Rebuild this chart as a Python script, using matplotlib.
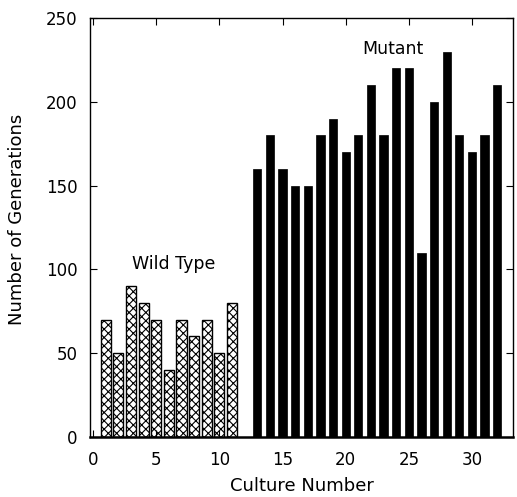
import matplotlib
matplotlib.use("Agg")
import matplotlib.pyplot as plt

wild_cultures = list(range(1, 12))
wild_values = [70, 50, 90, 80, 70, 40, 70, 60, 70, 50, 80]
mutant_cultures = list(range(13, 33))
mutant_values = [160, 180, 160, 150, 150, 180, 190, 170, 180, 210,
                 180, 220, 220, 110, 200, 230, 180, 170, 180, 210]
x_ticks = [0, 5, 10, 15, 20, 25, 30]
y_ticks = [0, 50, 100, 150, 200, 250]

plt.rcParams['hatch.linewidth'] = 0.8
fig = plt.figure(figsize=(5.17, 4.97), dpi=100)
ax = fig.add_axes([90 / 517, 60 / 497, 423 / 517, 419 / 497])

ax.bar(wild_cultures, wild_values, width=0.8, color='white',
       edgecolor='black', hatch='xxxx', linewidth=1.0)
ax.bar(mutant_cultures, mutant_values, width=0.65, color='black',
       edgecolor='black', linewidth=0.5)

ax.set_xlim(-0.25, 33.25)
ax.set_ylim(0, 250)
ax.set_xticks(x_ticks)
ax.set_yticks(y_ticks)
ax.tick_params(direction='in', top=True, right=True, length=5,
               labelsize=12)
ax.tick_params(axis='x', pad=10)
ax.tick_params(axis='y', pad=9)
for s in ax.spines.values():
    s.set_linewidth(1.0)
ax.spines['bottom'].set_linewidth(1.8)

ax.set_xlabel('Culture Number', fontsize=13)
ax.set_ylabel('Number of Generations', fontsize=13)
ax.xaxis.set_label_coords(0.5, -40 / 419, transform=ax.transAxes)
ax.yaxis.set_label_coords(-64 / 423, 0.52, transform=ax.transAxes)

ax.text(6.4, 98, 'Wild Type', ha='center', va='bottom', fontsize=12.5)
ax.text(23.7, 226, 'Mutant', ha='center', va='bottom', fontsize=12.5)

fig.savefig('out.png', dpi=100)
